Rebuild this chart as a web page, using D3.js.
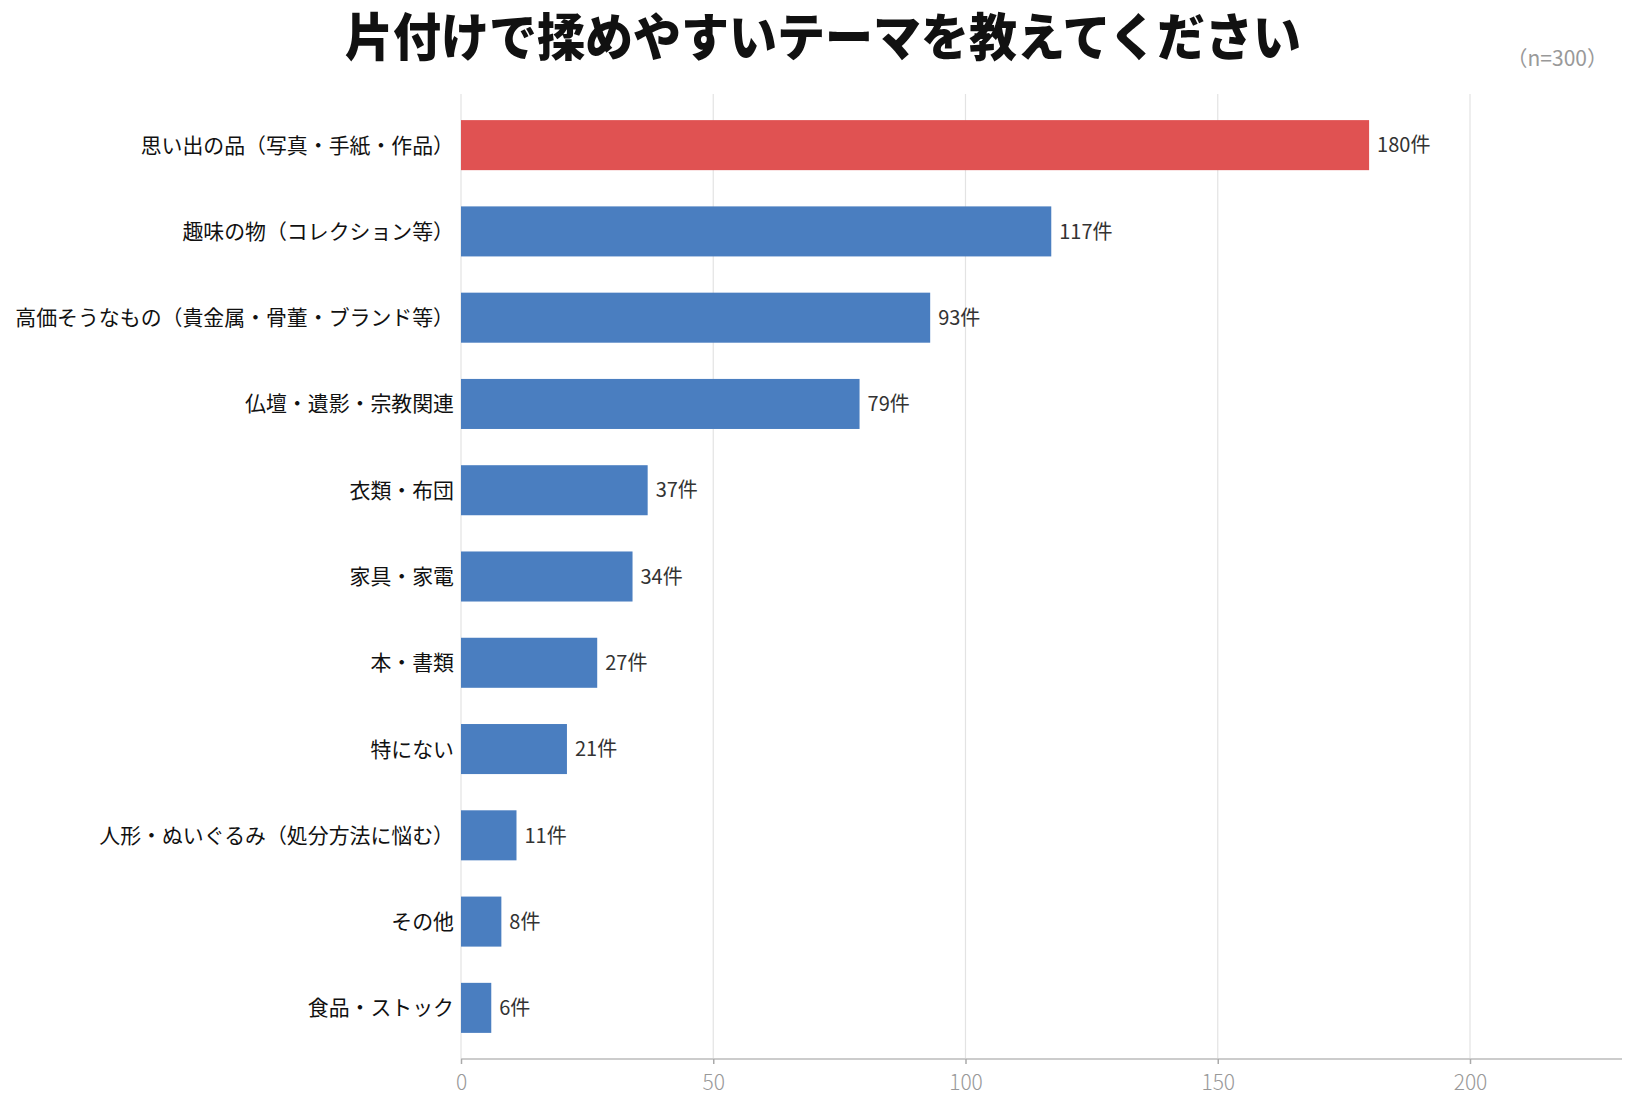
<!DOCTYPE html>
<html lang="ja">
<head>
    <meta charset="UTF-8">
    <title>片付けで揉めやすいテーマ</title>
    <script src="https://d3js.org/d3.v7.min.js"></script>
    <style>
        body{
            margin: 0;
            background: #fff;
        }
        text{
            font-family: "Noto Sans CJK JP", "Noto Sans", sans-serif;
        }
    </style>
</head>
<body>

<script>
    // data
    const categories = [
        "思い出の品（写真・手紙・作品）",
        "趣味の物（コレクション等）",
        "高価そうなもの（貴金属・骨董・ブランド等）",
        "仏壇・遺影・宗教関連",
        "衣類・布団",
        "家具・家電",
        "本・書類",
        "特にない",
        "人形・ぬいぐるみ（処分方法に悩む）",
        "その他",
        "食品・ストック"
    ]
    const counts = [180, 117, 93, 79, 37, 34, 27, 21, 11, 8, 6]
    const xTicks = [0, 50, 100, 150, 200]
    const titleText = "片付けで揉めやすいテーマを教えてください"
    const sampleText = "（n=300）"
    const unit = "件"

    const width = 1635, height = 1111
    const plotLeft = 461, plotRight = 1622, plotTop = 102, plotBottom = 1051, axisY = 1059

    const svg = d3.select("body").append("svg")
        .attr("width", width)
        .attr("height", height)

    const x = d3.scaleLinear()
        .domain([0, 230])
        .range([plotLeft, plotLeft + 230 * (1470 - 461) / 200])

    const y = d3.scaleBand()
        .domain(categories)
        .range([plotTop, plotBottom])
        .paddingInner(0.42)
        .paddingOuter(0.21)

    // title, a bit condensed like the original
    svg.append("text")
        .attr("transform", "translate(823,56) scale(1,1.06)")
        .attr("text-anchor", "middle")
        .attr("font-size", 48)
        .attr("font-weight", 900)
        .attr("fill", "#111")
        .text(titleText)

    svg.append("text")
        .attr("x", 1608)
        .attr("y", 66)
        .attr("text-anchor", "end")
        .attr("font-size", 21)
        .attr("fill", "#999")
        .text(sampleText)

    // grid
    svg.append("g")
        .selectAll("line")
        .data(xTicks)
        .enter()
        .append("line")
        .attr("x1", d => x(d))
        .attr("x2", d => x(d))
        .attr("y1", 94)
        .attr("y2", axisY)
        .attr("stroke", "#e3e3e3")
        .attr("stroke-width", 1.2)

    // bars
    svg.append("g")
        .selectAll("rect")
        .data(counts)
        .enter()
        .append("rect")
        .attr("x", x(0))
        .attr("y", (d, i) => y(categories[i]))
        .attr("width", d => x(d) - x(0))
        .attr("height", y.bandwidth())
        .attr("fill", (d, i) => i == 0 ? "#E05252" : "#4A7EC0")

    // value labels
    svg.append("g")
        .selectAll("text")
        .data(counts)
        .enter()
        .append("text")
        .attr("x", d => x(d) + 8)
        .attr("y", (d, i) => y(categories[i]) + y.bandwidth() / 2)
        .attr("dy", "0.36em")
        .attr("font-size", 20)
        .attr("fill", "#333")
        .text(d => d + unit)

    // category labels
    svg.append("g")
        .selectAll("text")
        .data(categories)
        .enter()
        .append("text")
        .attr("x", 454)
        .attr("y", d => y(d) + y.bandwidth() / 2)
        .attr("dy", "0.36em")
        .attr("text-anchor", "end")
        .attr("font-size", 20.9)
        .attr("fill", "#111")
        .text(d => d)

    // x axis
    const xAxis = svg.append("g")
        .attr("transform", `translate(0,${axisY})`)
        .call(d3.axisBottom(x).tickValues(xTicks).tickSize(5).tickPadding(11))

    xAxis.select(".domain")
        .attr("d", `M${plotLeft},0H${plotRight}`)
        .attr("stroke", "#ccc")
        .attr("stroke-width", 2)
    xAxis.selectAll(".tick line")
        .attr("stroke", "#aaa")
        .attr("stroke-width", 1.5)
    xAxis.selectAll(".tick text")
        .attr("font-size", 21)
        .attr("font-weight", 300)
        .attr("fill", "#999")
        .attr("font-family", "\"Noto Sans CJK JP\", sans-serif")

</script>
</body>
</html>
